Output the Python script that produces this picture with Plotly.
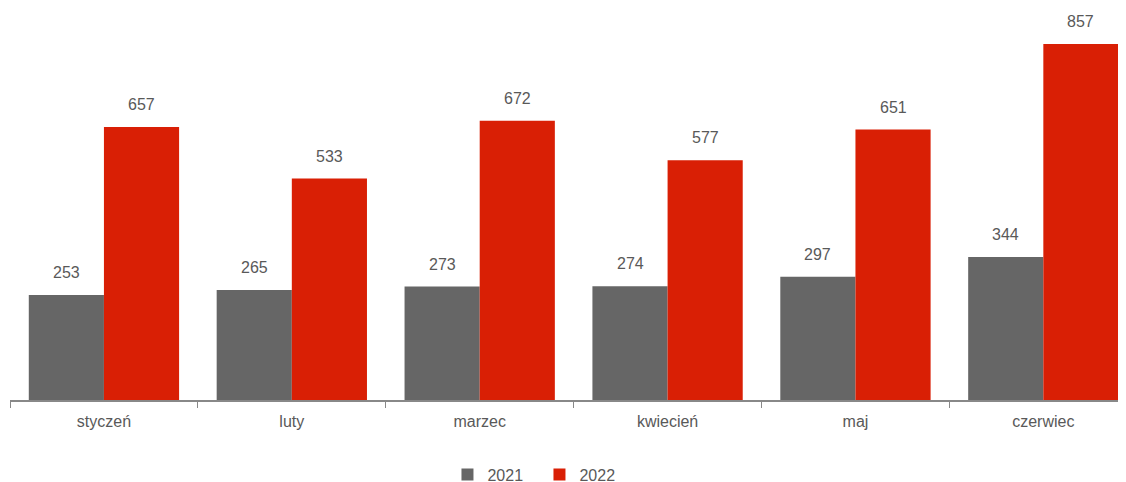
import plotly.graph_objects as go

categories = ["styczeń", "luty", "marzec", "kwiecień", "maj", "czerwiec"]
values_2021 = [253, 265, 273, 274, 297, 344]
values_2022 = [657, 533, 672, 577, 651, 857]
series_names = ["2021", "2022"]

GRAY = "#666666"
RED = "#D91F05"
TXT = "#595959"
FONT = "Liberation Sans, Arial, sans-serif"

fig = go.Figure()
fig.add_bar(x=categories, y=values_2021, name=series_names[0], marker_color=GRAY,
            marker_line_width=0)
fig.add_bar(x=categories, y=values_2022, name=series_names[1], marker_color=RED,
            marker_line_width=0)

for i, c in enumerate(categories):
    for v, dx in ((values_2021[i], -0.2), (values_2022[i], 0.2)):
        fig.add_annotation(x=i + dx, y=v, text=str(v), showarrow=False,
                           yanchor="bottom", yshift=12,
                           font=dict(family=FONT, size=16, color=TXT))

fig.update_layout(
    width=1118, height=474,
    margin=dict(l=2, r=0, t=0, b=82, autoexpand=False),
    paper_bgcolor="white", plot_bgcolor="white",
    barmode="group", bargap=0.2, bargroupgap=0,
    font=dict(family=FONT, size=16, color=TXT),
    showlegend=True,
    legend=dict(orientation="h", x=0.392, xanchor="left", y=-0.19, yanchor="middle",
                font=dict(family=FONT, size=16, color=TXT), itemwidth=30,
                entrywidth=47, traceorder="normal", bgcolor="rgba(0,0,0,0)"),
)
fig.update_xaxes(type="category", range=[-0.5, 5.44], showline=True, linecolor="#888888",
                 linewidth=1.5, ticks="outside", ticklen=6, tickcolor="#888888",
                 tickson="boundaries", showgrid=False, zeroline=False,
                 ticklabelstandoff=6,
                 tickfont=dict(family=FONT, size=16, color=TXT))
fig.update_yaxes(range=[0, 943.7], visible=False, showgrid=False, zeroline=False)

fig.write_html("out.html")
